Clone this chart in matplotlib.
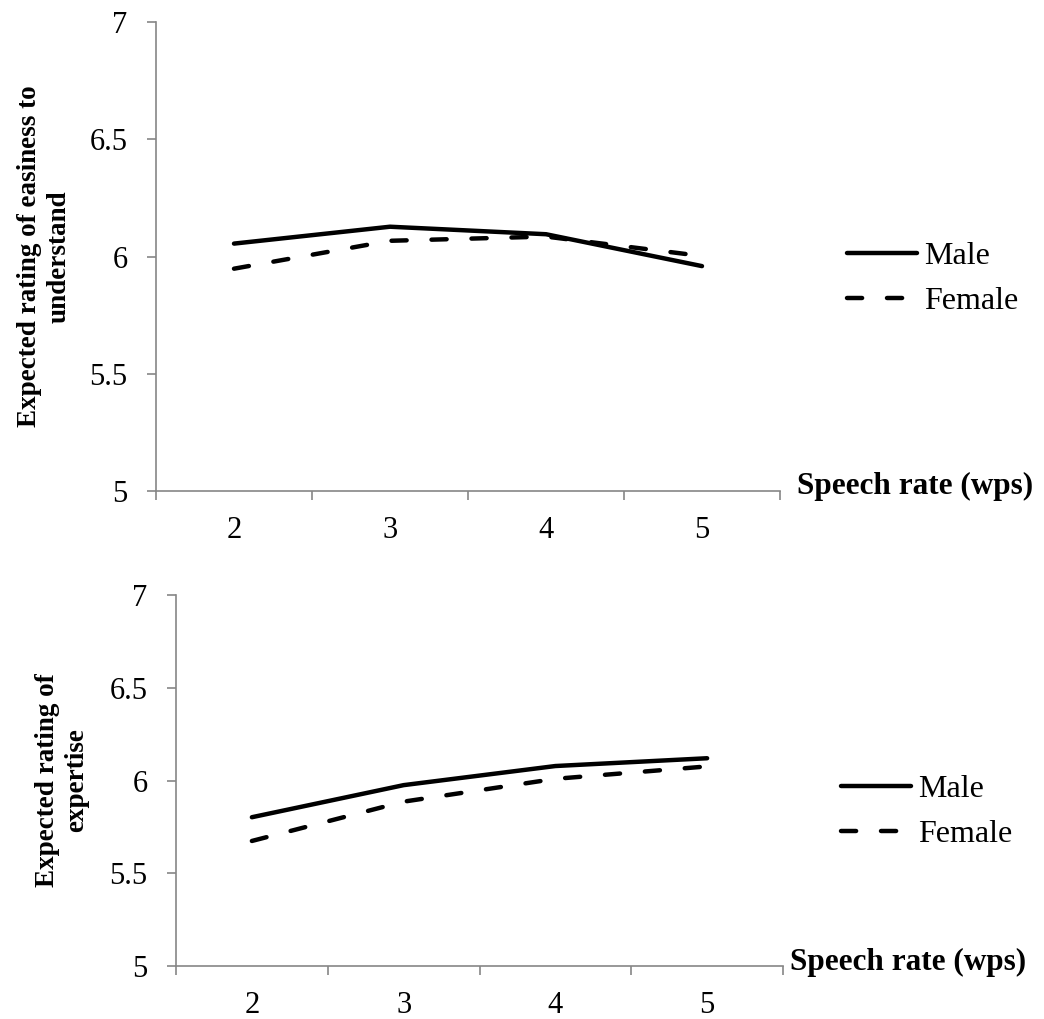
import numpy as np
import matplotlib
matplotlib.use('Agg')
import matplotlib.pyplot as plt
from matplotlib.ticker import FixedLocator, NullFormatter, FixedFormatter

plt.rcParams['font.family'] = ['Liberation Serif', 'DejaVu Serif']

# data
rates = ['2', '3', '4', '5']
easy_male = [6.055, 6.127, 6.095, 5.959]
easy_female = [5.948, 6.067, 6.085, 6.002]
exp_male = [5.802, 5.975, 6.078, 6.120]
exp_female = [5.674, 5.886, 6.009, 6.076]
yticks = [5, 5.5, 6, 6.5, 7]
ytick_labels = ['5', '5.5', '6', '6.5', '7']

W, H = 1044, 1019
fig = plt.figure(figsize=(W / 100, H / 100), dpi=100)

spine_col = '#868686'


def fx(px):
    return px / W


def fy(py):
    return 1 - py / H


def make_panel(box, male, female, ylabel, ylab_x, xlab_pos, leg_pos):
    x0, y0, x1, y1 = box
    ax = fig.add_axes([fx(x0), fy(y1), fx(x1) - fx(x0), fy(y0) - fy(y1)])
    xs = np.arange(1, len(rates) + 1)
    ax.plot(xs, male, '-', color='black', lw=3.2, solid_capstyle='round',
            label='Male')
    ax.plot(xs, female, '--', color='black', lw=3.2, dashes=(3.4, 5.6),
            dash_capstyle='round', label='Female')
    ax.set_xlim(0.5, len(rates) + 0.5)
    ax.set_ylim(5, 7)
    for s in ['top', 'right']:
        ax.spines[s].set_visible(False)
    for s in ['left', 'bottom']:
        ax.spines[s].set_color(spine_col)
        ax.spines[s].set_linewidth(1.2)
    ax.yaxis.set_major_locator(FixedLocator(yticks))
    ax.yaxis.set_major_formatter(FixedFormatter(ytick_labels))
    ax.xaxis.set_major_locator(FixedLocator(np.arange(0.5, len(rates) + 1)))
    ax.xaxis.set_major_formatter(NullFormatter())
    ax.xaxis.set_minor_locator(FixedLocator(xs))
    ax.xaxis.set_minor_formatter(FixedFormatter(rates))
    ax.tick_params(axis='both', which='major', direction='out', length=6.5,
                   width=1.2, color=spine_col, labelsize=22, pad=14)
    ax.tick_params(axis='x', which='minor', length=0, labelsize=22, pad=18)
    fig.text(fx(ylab_x), (fy(y0) + fy(y1)) / 2, ylabel, rotation=90,
             ha='center', va='center', multialignment='center',
             fontsize=19.5, fontweight='bold', linespacing=1.25)
    fig.text(fx(xlab_pos[0]), fy(xlab_pos[1]), 'Speech rate (wps)',
             ha='left', va='center', fontsize=22.5, fontweight='bold')
    fig.legend(handles=ax.get_lines(), loc='center left',
               bbox_to_anchor=(fx(leg_pos[0]), fy(leg_pos[1])),
               frameon=False, fontsize=23, handlelength=2.2,
               handletextpad=0.2, borderpad=0, borderaxespad=0,
               labelspacing=0.5)
    return ax


make_panel((156, 22, 780, 491), easy_male, easy_female,
           'Expected rating of easiness to\nunderstand', 44,
           (797, 486), (847, 279))
make_panel((176, 595, 783, 966), exp_male, exp_female,
           'Expected rating of\nexpertise', 62,
           (790, 962), (841, 812))

fig.savefig('out.png', dpi=100)
